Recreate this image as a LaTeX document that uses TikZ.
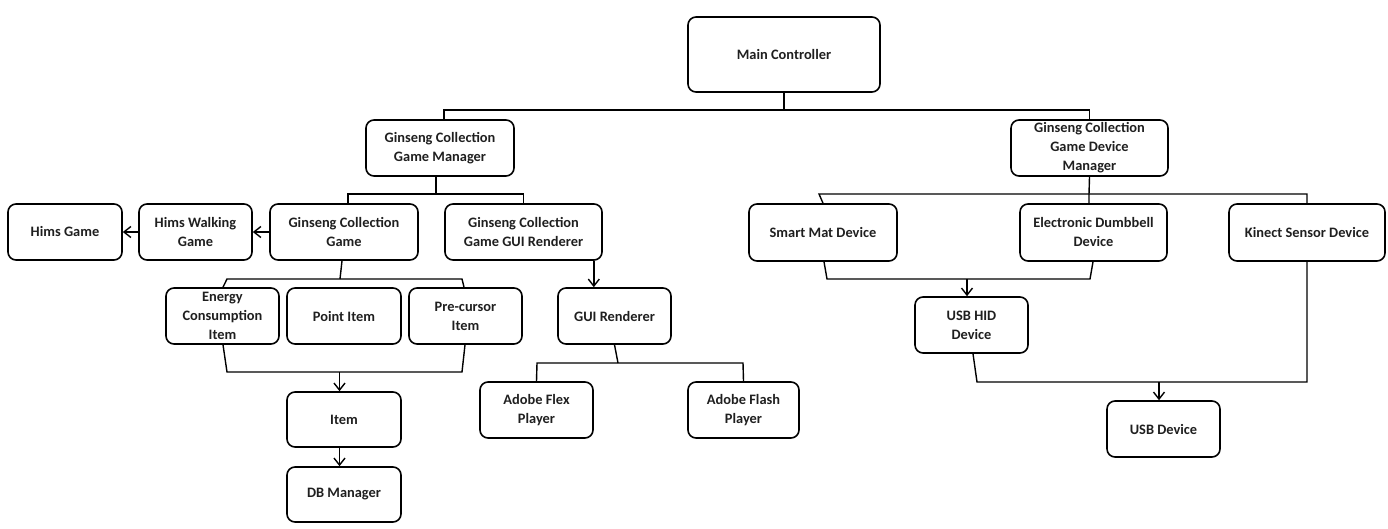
\documentclass[tikz,border=0pt]{standalone}
\usepackage{fontspec}
\setmainfont{Carlito}
\usetikzlibrary{arrows.meta}
\tikzset{
  box/.style={draw=black, line width=1.6pt, rounded corners=8pt, align=center, inner sep=0pt,
    font=\bfseries\fontsize{14.4}{19}\selectfont, text=black!88},
  wire/.style={draw=black, line width=1.4pt},
  arr/.style={wire, -{Straight Barb[length=7pt,width=11pt,line width=1.4pt]}},
}
\begin{document}
\begin{tikzpicture}[x=1pt,y=-1pt]
\useasboundingbox (0,0) rectangle (1388,529);
% boxes
\node[box, minimum width=192pt, minimum height=75pt] (main) at (784,54.5) {Main Controller};
\node[box, minimum width=148pt, minimum height=56pt] (gcgm) at (440,148) {Ginseng Collection\\Game Manager};
\node[box, minimum width=157pt, minimum height=56pt] (gcgdm) at (1089.5,148) {Ginseng Collection\\Game Device\\Manager};
\node[box, minimum width=114pt, minimum height=56pt] (hims) at (65,232) {Hims Game};
\node[box, minimum width=113pt, minimum height=56pt] (hwg) at (195.5,232) {Hims Walking\\Game};
\node[box, minimum width=148pt, minimum height=56pt] (gcg) at (344,232) {Ginseng Collection\\Game};
\node[box, minimum width=157pt, minimum height=56pt] (gui) at (523.5,232) {Ginseng Collection\\Game GUI Renderer};
\node[box, minimum width=148pt, minimum height=57pt] (smart) at (823,232.5) {Smart Mat Device};
\node[box, minimum width=147pt, minimum height=57pt] (edd) at (1093.5,232.5) {Electronic Dumbbell\\Device};
\node[box, minimum width=156pt, minimum height=57pt] (kin) at (1307,232.5) {Kinect Sensor Device};
\node[box, minimum width=113pt, minimum height=56pt] (eci) at (222.5,316) {Energy\\Consumption\\Item};
\node[box, minimum width=114pt, minimum height=56pt] (pt) at (344,316) {Point Item};
\node[box, minimum width=113pt, minimum height=56pt] (pre) at (465.5,316) {Pre-cursor\\Item};
\node[box, minimum width=113pt, minimum height=56pt] (guir) at (614.5,316) {GUI Renderer};
\node[box, minimum width=113pt, minimum height=56pt] (hid) at (971.5,325) {USB HID\\Device};
\node[box, minimum width=114pt, minimum height=55pt] (item) at (344,419.5) {Item};
\node[box, minimum width=114pt, minimum height=55pt] (db) at (344,494.5) {DB Manager};
\node[box, minimum width=113pt, minimum height=56pt] (flex) at (536.5,410) {Adobe Flex\\Player};
\node[box, minimum width=111pt, minimum height=56pt] (flash) at (743.5,410) {Adobe Flash\\Player};
\node[box, minimum width=113pt, minimum height=56pt] (usb) at (1163.5,429) {USB Device};
% junction coordinates
\coordinate (j1) at (784,110);
\coordinate (j2) at (436,194);
\coordinate (j3) at (340,279);
\coordinate (j3l) at (227,279);
\coordinate (j3r) at (462,279);
\coordinate (j4l) at (227,372);
\coordinate (j4r) at (462,372);
\coordinate (j4) at (339.5,372);
\coordinate (j5) at (618,363);
\coordinate (j5l) at (537,363);
\coordinate (j5r) at (743,363);
\coordinate (j6) at (1089,194);
\coordinate (j6l) at (819,194);
\coordinate (j6r) at (1307,194);
\coordinate (j7l) at (827,279);
\coordinate (j7r) at (1090,279);
\coordinate (j7) at (967,279);
\coordinate (j8l) at (977,382);
\coordinate (j8r) at (1307,382);
\coordinate (j8) at (1159,382);
% top level
\draw[wire] (main.south) -- (j1);
\draw[wire] ([xshift=4pt]gcgm.north) |- (j1) -| (gcgdm.north);
% game manager
\draw[wire] ([xshift=-4pt]gcgm.south) -- (j2);
\draw[wire] ([xshift=4pt]gcg.north) |- (j2) -| (gui.north);
\draw[arr] (gcg.west) -- (hwg.east);
\draw[arr] (hwg.west) -- (hims.east);
% items
\draw[wire] ([xshift=-2pt]gcg.south) -- (j3);
\draw[wire] ([xshift=0.5pt]eci.north) -- (j3l) -- (j3r) -- ([xshift=-1.5pt]pre.north);
\draw[wire] ([xshift=0.5pt]eci.south) -- (j4l) -- (j4r) -- ([xshift=-0.5pt]pre.south);
\draw[arr] (j4) -- ([xshift=-4.5pt]item.north);
\draw[arr] ([xshift=-4.5pt]item.south) -- ([xshift=-4.5pt]db.north);
% GUI
\draw[arr] ([xshift=-9pt]gui.south east) -- ([xshift=-9pt]gui.south east |- guir.north);
\draw[wire] (guir.south) -- (j5);
\draw[wire] (flex.north) -- (j5l) -- (j5r) -- (flash.north);
% devices
\draw[wire] (gcgdm.south) -- (j6) -- ([xshift=-4.5pt]edd.north);
\draw[wire] (smart.north) -- (j6l) -- (j6r) -- (kin.north);
\draw[wire] ([xshift=1pt]smart.south) -- (j7l) -- (j7r) -- ([xshift=-0.5pt]edd.south);
\draw[arr] (j7) -- ([xshift=-4.5pt]hid.north);
\draw[wire] ([xshift=1.5pt]hid.south) -- (j8l) -- (j8r) -- (kin.south);
\draw[arr] (j8) -- ([xshift=-4.5pt]usb.north);
\end{tikzpicture}
\end{document}
